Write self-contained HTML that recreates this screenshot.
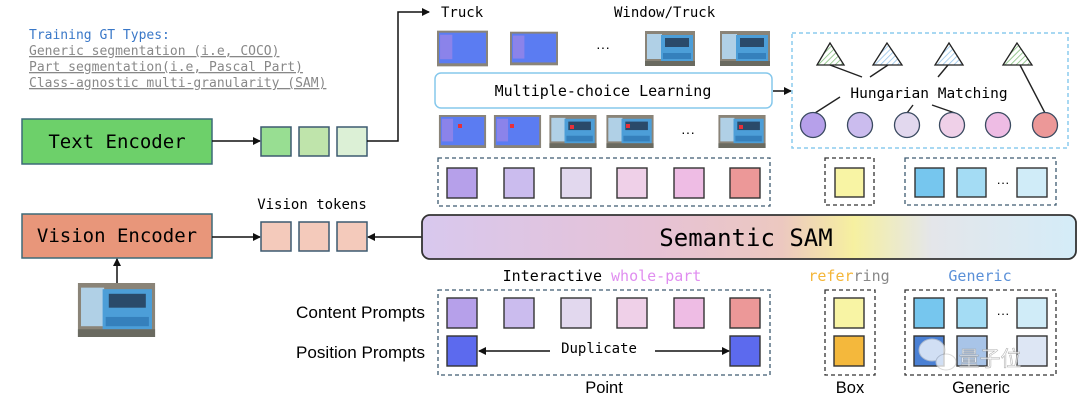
<!DOCTYPE html>
<html><head><meta charset="utf-8"><style>
html,body{margin:0;padding:0;background:#fff;}
svg{display:block;}
.m{font-family:"DejaVu Sans Mono","Liberation Mono",monospace;}
.s{font-family:"Liberation Sans",sans-serif;}
</style></head><body>
<svg width="1080" height="407" viewBox="0 0 1080 407" xmlns="http://www.w3.org/2000/svg">
<defs>
<marker id="ah" markerWidth="8" markerHeight="8" refX="7" refY="4" orient="auto" markerUnits="userSpaceOnUse"><path d="M0,0 L8,4 L0,8 z" fill="#111"/></marker>
<linearGradient id="sam" x1="0" x2="1" y1="0" y2="0">
<stop offset="0" stop-color="#d8c8ee"/><stop offset="0.35" stop-color="#e6c2d6"/><stop offset="0.55" stop-color="#ecc8c0"/><stop offset="0.66" stop-color="#f6f0a0"/><stop offset="0.78" stop-color="#e4e6ea"/><stop offset="1" stop-color="#d4ecf8"/>
</linearGradient>
<pattern id="hb" width="4" height="4" patternUnits="userSpaceOnUse" patternTransform="rotate(45)"><rect width="4" height="4" fill="#fff"/><line x1="0" y1="0" x2="0" y2="4" stroke="#8ec0ea" stroke-width="1.5"/></pattern>
<pattern id="hg" width="4" height="4" patternUnits="userSpaceOnUse" patternTransform="rotate(45)"><rect width="4" height="4" fill="#fff"/><line x1="0" y1="0" x2="0" y2="4" stroke="#7cbb74" stroke-width="1.5"/></pattern>
<symbol id="trk" viewBox="0 0 50 35">
<rect width="50" height="35" fill="#8a8478"/>
<rect x="2" y="3" width="15" height="25" fill="#b0d0e6"/>
<rect x="16" y="4" width="32" height="26" fill="#4c9ed8"/>
<rect x="20" y="7" width="24" height="9" fill="#2a4a6a"/>
<rect x="18" y="22" width="28" height="6" fill="#3580bc"/>
<rect x="0" y="30" width="50" height="5" fill="#6a6a60"/>
</symbol>
<symbol id="trm" viewBox="0 0 50 35">
<rect width="50" height="35" fill="#8a8478"/>
<rect x="2" y="2" width="46" height="30" fill="#5b7cf2"/>
<rect x="3" y="4" width="12" height="24" fill="#8b83ea"/>
</symbol>
</defs>

<g class="m" font-size="13">
<text x="29" y="39" fill="#3a78c8">Training GT Types:</text>
<text x="29" y="55" fill="#888" text-decoration="underline">Generic segmentation (i.e, COCO)</text>
<text x="29" y="71" fill="#888" text-decoration="underline">Part segmentation(i.e, Pascal Part)</text>
<text x="29" y="87" fill="#888" text-decoration="underline">Class-agnostic multi-granularity (SAM)</text>
</g>

<rect x="22" y="119" width="190" height="45" fill="#6dd06a" stroke="#3d6a78" stroke-width="1.5"/>
<text x="117" y="148" class="m" font-size="19" text-anchor="middle">Text Encoder</text>
<line x1="212" y1="141" x2="260" y2="141" stroke="#111" stroke-width="1.5" marker-end="url(#ah)"/>
<rect x="261" y="127" width="30" height="29" fill="#98de92" stroke="#3d5a70" stroke-width="1.5"/>
<rect x="299" y="127" width="30" height="29" fill="#bfe4ab" stroke="#3d5a70" stroke-width="1.5"/>
<rect x="337" y="127" width="30" height="29" fill="#dcf0d6" stroke="#3d5a70" stroke-width="1.5"/>
<polyline points="367,141 398,141 398,12 429,12" fill="none" stroke="#111" stroke-width="1.5" marker-end="url(#ah)"/>

<text x="441" y="17" class="m" font-size="14">Truck</text>
<text x="614" y="17" class="m" font-size="14">Window/Truck</text>

<use href="#trm" x="437" y="30" width="51" height="37" preserveAspectRatio="none"/>
<use href="#trm" x="510" y="30" width="48" height="37" preserveAspectRatio="none"/>
<text x="603" y="52" font-size="14" text-anchor="middle" class="s">···</text>
<use href="#trk" x="645" y="30" width="50" height="37" preserveAspectRatio="none"/>
<use href="#trk" x="720" y="30" width="50" height="37" preserveAspectRatio="none"/>

<rect x="435" y="73" width="337" height="35" rx="6" fill="#fff" stroke="#86c8ec" stroke-width="1.5"/>
<text x="603" y="96" class="m" font-size="15" text-anchor="middle">Multiple-choice Learning</text>
<line x1="773" y1="91" x2="791" y2="91" stroke="#111" stroke-width="1.5" marker-end="url(#ah)"/>

<use href="#trm" x="437" y="115" width="51" height="33" preserveAspectRatio="none"/>
<use href="#trm" x="492" y="115" width="51" height="33" preserveAspectRatio="none"/>
<use href="#trk" x="548" y="115" width="50" height="33" preserveAspectRatio="none"/>
<use href="#trk" x="605" y="115" width="50" height="33" preserveAspectRatio="none"/>
<text x="688" y="137" font-size="14" text-anchor="middle" class="s">···</text>
<use href="#trk" x="717" y="115" width="50" height="33" preserveAspectRatio="none"/>
<g fill="#e8303a">
<rect x="458" y="124" width="4" height="4"/><rect x="510" y="124" width="4" height="4"/><rect x="570" y="125" width="4" height="4"/><rect x="626" y="124" width="4" height="4"/><rect x="739" y="125" width="4" height="4"/>
</g>

<rect x="792" y="33" width="276" height="115" fill="none" stroke="#8ccbee" stroke-width="1.5" stroke-dasharray="4,3"/>
<polygon points="830,43 817,65 844,65" fill="url(#hg)" stroke="#222" stroke-width="1.3"/>
<polygon points="887,43 873,65 902,65" fill="url(#hb)" stroke="#222" stroke-width="1.3"/>
<polygon points="949,43 935,65 963,65" fill="url(#hb)" stroke="#222" stroke-width="1.3"/>
<polygon points="1017,43 1003,65 1032,65" fill="url(#hg)" stroke="#222" stroke-width="1.3"/>
<g stroke="#222" stroke-width="1.4">
<line x1="830" y1="65" x2="862" y2="77"/><line x1="888" y1="65" x2="870" y2="77"/><line x1="948" y1="65" x2="938" y2="77"/><line x1="1020" y1="65" x2="1045" y2="113"/>
<line x1="840" y1="97" x2="815" y2="113"/><line x1="913" y1="105" x2="907" y2="113"/><line x1="932" y1="105" x2="955" y2="113"/>
</g>
<text x="929" y="98" class="m" font-size="14.5" text-anchor="middle">Hungarian Matching</text>
<g stroke="#3a4a60" stroke-width="1.3">
<circle cx="813" cy="125" r="12.5" fill="#b6a0ea"/><circle cx="860" cy="125" r="12.5" fill="#cbbcee"/><circle cx="907" cy="125" r="12.5" fill="#e2d8ee"/><circle cx="952" cy="125" r="12.5" fill="#efd0e8"/><circle cx="998" cy="125" r="12.5" fill="#eebce4"/><circle cx="1045" cy="125" r="12.5" fill="#ec9898"/>
</g>

<rect x="438" y="158" width="332" height="48" fill="none" stroke="#3d5a70" stroke-width="1.3" stroke-dasharray="4,3"/>
<g stroke="#333" stroke-width="1.4">
<rect x="447" y="168" width="30" height="30" fill="#b6a0ea"/><rect x="504" y="168" width="30" height="30" fill="#cbbcee"/><rect x="561" y="168" width="30" height="30" fill="#e2d8ee"/><rect x="617" y="168" width="30" height="30" fill="#efd0e8"/><rect x="674" y="168" width="30" height="30" fill="#eebce4"/><rect x="730" y="168" width="30" height="30" fill="#ec9898"/>
</g>
<rect x="825" y="158" width="49" height="47" fill="none" stroke="#333" stroke-width="1.3" stroke-dasharray="4,3"/>
<rect x="835" y="168" width="29" height="29" fill="#f8f4a4" stroke="#333" stroke-width="1.4"/>
<rect x="905" y="158" width="151" height="47" fill="none" stroke="#3d5a70" stroke-width="1.3" stroke-dasharray="4,3"/>
<g stroke="#333" stroke-width="1.4">
<rect x="915" y="168" width="29" height="29" fill="#76c6ee"/><rect x="957" y="168" width="29" height="29" fill="#a4dcf4"/><rect x="1017" y="168" width="30" height="29" fill="#d0ecf8"/>
</g>
<text x="1003" y="187" font-size="13" text-anchor="middle" class="s">···</text>

<rect x="22" y="214" width="190" height="44" fill="#e8967a" stroke="#3d6a78" stroke-width="1.5"/>
<text x="117" y="242" class="m" font-size="19" text-anchor="middle">Vision Encoder</text>
<line x1="212" y1="237" x2="260" y2="237" stroke="#111" stroke-width="1.5" marker-end="url(#ah)"/>
<text x="312" y="209" class="m" font-size="14" text-anchor="middle">Vision tokens</text>
<g fill="#f4cabb" stroke="#3d5a70" stroke-width="1.5">
<rect x="261" y="222" width="30" height="29"/><rect x="299" y="222" width="30" height="29"/><rect x="337" y="222" width="30" height="29"/>
</g>
<line x1="422" y1="237" x2="368" y2="237" stroke="#111" stroke-width="1.5" marker-end="url(#ah)"/>
<use href="#trk" x="76" y="283" width="81" height="54" preserveAspectRatio="none"/>
<line x1="117" y1="283" x2="117" y2="259" stroke="#111" stroke-width="1.5" marker-end="url(#ah)"/>

<rect x="422" y="215" width="654" height="44" rx="8" fill="url(#sam)" stroke="#333" stroke-width="1.8"/>
<text x="746" y="246" class="m" font-size="24" text-anchor="middle">Semantic SAM</text>

<text x="602" y="281" class="m" font-size="15" text-anchor="middle">Interactive <tspan fill="#e08ef0">whole-part</tspan></text>
<text x="849" y="281" class="m" font-size="15" text-anchor="middle"><tspan fill="#f4b638">refer</tspan><tspan fill="#888">ring</tspan></text>
<text x="980" y="281" class="m" font-size="15" text-anchor="middle" fill="#5a90d8">Generic</text>

<text x="425" y="318" class="s" font-size="16.5" text-anchor="end" textLength="129" lengthAdjust="spacingAndGlyphs">Content Prompts</text>
<text x="425" y="358" class="s" font-size="16.5" text-anchor="end" textLength="129" lengthAdjust="spacingAndGlyphs">Position Prompts</text>

<rect x="438" y="290" width="332" height="85" fill="none" stroke="#3d5a70" stroke-width="1.3" stroke-dasharray="4,3"/>
<g stroke="#333" stroke-width="1.4">
<rect x="447" y="298" width="30" height="30" fill="#b6a0ea"/><rect x="504" y="298" width="30" height="30" fill="#cbbcee"/><rect x="561" y="298" width="30" height="30" fill="#e2d8ee"/><rect x="617" y="298" width="30" height="30" fill="#efd0e8"/><rect x="674" y="298" width="30" height="30" fill="#eebce4"/><rect x="730" y="298" width="30" height="30" fill="#ec9898"/>
<rect x="447" y="336" width="30" height="30" fill="#5c6aee"/><rect x="730" y="336" width="30" height="30" fill="#5c6aee"/>
</g>
<text x="599" y="353" class="m" font-size="14" text-anchor="middle">Duplicate</text>
<line x1="550" y1="351" x2="479" y2="351" stroke="#111" stroke-width="1.4" marker-end="url(#ah)"/>
<line x1="655" y1="351" x2="729" y2="351" stroke="#111" stroke-width="1.4" marker-end="url(#ah)"/>
<text x="604" y="393" class="s" font-size="16.5" text-anchor="middle">Point</text>

<rect x="825" y="290" width="50" height="85" fill="none" stroke="#333" stroke-width="1.3" stroke-dasharray="4,3"/>
<rect x="834" y="298" width="30" height="30" fill="#f8f4a4" stroke="#333" stroke-width="1.4"/>
<rect x="834" y="336" width="30" height="30" fill="#f4b83c" stroke="#333" stroke-width="1.4"/>
<text x="850" y="393" class="s" font-size="16.5" text-anchor="middle">Box</text>

<rect x="905" y="290" width="151" height="85" fill="none" stroke="#333" stroke-width="1.3" stroke-dasharray="4,3"/>
<g stroke="#333" stroke-width="1.4">
<rect x="914" y="298" width="30" height="30" fill="#76c6ee"/><rect x="957" y="298" width="30" height="30" fill="#a4dcf4"/><rect x="1017" y="298" width="30" height="30" fill="#d0ecf8"/>
<rect x="914" y="336" width="30" height="30" fill="#4a80d4"/><rect x="957" y="336" width="30" height="30" fill="#a8c4e8"/><rect x="1017" y="336" width="30" height="30" fill="#dde6f4"/>
</g>
<text x="1003" y="318" font-size="13" text-anchor="middle" class="s">···</text>
<g opacity="0.75">
<ellipse cx="932" cy="350" rx="13" ry="11" fill="#fff" stroke="#ccc"/>
<ellipse cx="946" cy="362" rx="10" ry="8" fill="#fff" stroke="#ccc"/>
<text x="990" y="366" font-family="'Noto Sans CJK SC',sans-serif" font-size="21" fill="#fff" stroke="#999" stroke-width="0.6" text-anchor="middle">量子位</text>
</g>
<text x="981" y="393" class="s" font-size="16.5" text-anchor="middle">Generic</text>
</svg>
</body></html>
